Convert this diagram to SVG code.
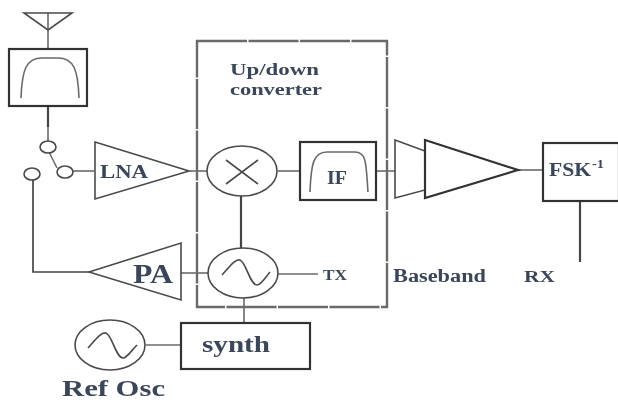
<svg xmlns="http://www.w3.org/2000/svg" width="618" height="402" viewBox="0 0 618 402">
<style>
.s{fill:none;stroke:#4a4a4a;stroke-width:1.6}
.w{fill:#fff;stroke:#4a4a4a;stroke-width:1.6}
.b{fill:#fff;stroke:#333;stroke-width:2.2}
.c{fill:none;stroke:#6a6a6a;stroke-width:1.6}
.d{fill:none;stroke:#444;stroke-width:2.2}
text{font-family:"Liberation Serif",serif;font-weight:bold;fill:#3a4658}
</style>
<defs><filter id="soft" filterUnits="userSpaceOnUse" x="0" y="0" width="618" height="402"><feGaussianBlur stdDeviation="0.45"/></filter></defs>
<rect width="618" height="402" fill="#fff"/>
<g filter="url(#soft)">
<g id="connectors">
<path class="c" d="M48 13V49"/>
<path class="d" d="M48 107V127"/>
<path class="c" d="M48 127V141"/>
<path class="c" d="M49 152L57 168"/>
<path class="c" d="M73 171H94"/>
<path class="d" d="M33 180V272H89" style="stroke-width:1.7"/>
<path class="c" d="M190 171H207"/>
<path class="c" d="M278 171H300"/>
<path class="c" d="M373 171H396"/>
<path class="c" d="M518 170H543"/>
<path class="d" d="M580 202V262"/>
<path class="d" d="M241 196V248"/>
<path class="c" d="M179 273H209"/>
<path class="c" d="M278 274H318"/>
<path class="c" d="M244 297V322"/>
<path class="c" d="M146 345H181"/>
</g>
<g id="converter-box">
<path d="M197 41H387V307H197Z" fill="none" stroke="#6a6a6a" stroke-width="2.4" stroke-dasharray="50 1.500"/>
<text x="230" y="75" font-size="17" textLength="89" lengthAdjust="spacingAndGlyphs">Up/down</text>
<text x="230" y="95" font-size="17" textLength="92" lengthAdjust="spacingAndGlyphs">converter</text>
</g>
<g id="antenna"><path class="s" d="M24 13H72L48 30Z"/></g>
<g id="rf-filter">
<rect class="b" x="9" y="49" width="78" height="57"/>
<path class="c" d="M21 98C22 70 26 58 42 58H58C74 58 78 70 79 98"/>
</g>
<g id="switch">
<ellipse class="w" cx="48" cy="147" rx="8" ry="6"/>
<ellipse class="w" cx="65" cy="172" rx="8" ry="6"/>
<ellipse class="w" cx="32" cy="174" rx="8" ry="6"/>
</g>
<g id="lna">
<path class="w" d="M95 142L189 171L95 199Z"/>
<text x="100" y="178" font-size="18" textLength="48" lengthAdjust="spacingAndGlyphs">LNA</text>
</g>
<g id="mixer">
<ellipse class="w" cx="242" cy="171" rx="35" ry="25"/>
<path class="s" d="M226 160L258 184M258 160L226 184"/>
</g>
<g id="if-filter">
<rect class="b" x="300" y="142" width="76" height="58"/>
<path class="c" d="M310 192C311 165 313 152 327 152H355C367 152 366 165 368 192"/>
<text x="327" y="184" font-size="18" textLength="20" lengthAdjust="spacingAndGlyphs">IF</text>
</g>
<g id="baseband-amp1"><path class="w" d="M395 140L425 151V190L395 198Z"/></g>
<g id="baseband-amp2"><path class="b" d="M425 140L518 170L425 198Z"/></g>
<g id="fsk">
<rect class="b" x="543" y="143" width="76" height="58"/>
<text x="549" y="176" font-size="18" textLength="42" lengthAdjust="spacingAndGlyphs">FSK</text>
<text x="592" y="168" font-size="12" textLength="12" lengthAdjust="spacingAndGlyphs">-1</text>
</g>
<g id="pa">
<path class="w" d="M89 272L181 243V300Z"/>
<text x="133" y="283" font-size="27" textLength="40" lengthAdjust="spacingAndGlyphs">PA</text>
</g>
<g id="tx-osc">
<ellipse class="w" cx="243" cy="273" rx="35" ry="25"/>
<path class="s" d="M222 275C230 266 235 259 240 260C246 262 250 285 257 285C261 285 265 278 270 272"/>
</g>
<text id="tx" x="323" y="280" font-size="15" textLength="24" lengthAdjust="spacingAndGlyphs">TX</text>
<g id="synth">
<rect class="b" x="181" y="323" width="129" height="46"/>
<text x="202" y="352" font-size="23" textLength="68" lengthAdjust="spacingAndGlyphs">synth</text>
</g>
<g id="ref-osc">
<ellipse class="w" cx="110" cy="345" rx="35" ry="25"/>
<path class="s" d="M88 348C96 339 101 332 106 333C112 335 116 358 123 358C127 358 131 351 137 345"/>
<text x="62" y="396" font-size="24" textLength="103" lengthAdjust="spacingAndGlyphs">Ref Osc</text>
</g>
<text id="baseband" x="393" y="282" font-size="18" textLength="93" lengthAdjust="spacingAndGlyphs">Baseband</text>
<text id="rx" x="524" y="282" font-size="17" textLength="31" lengthAdjust="spacingAndGlyphs">RX</text>
</g>
</svg>
